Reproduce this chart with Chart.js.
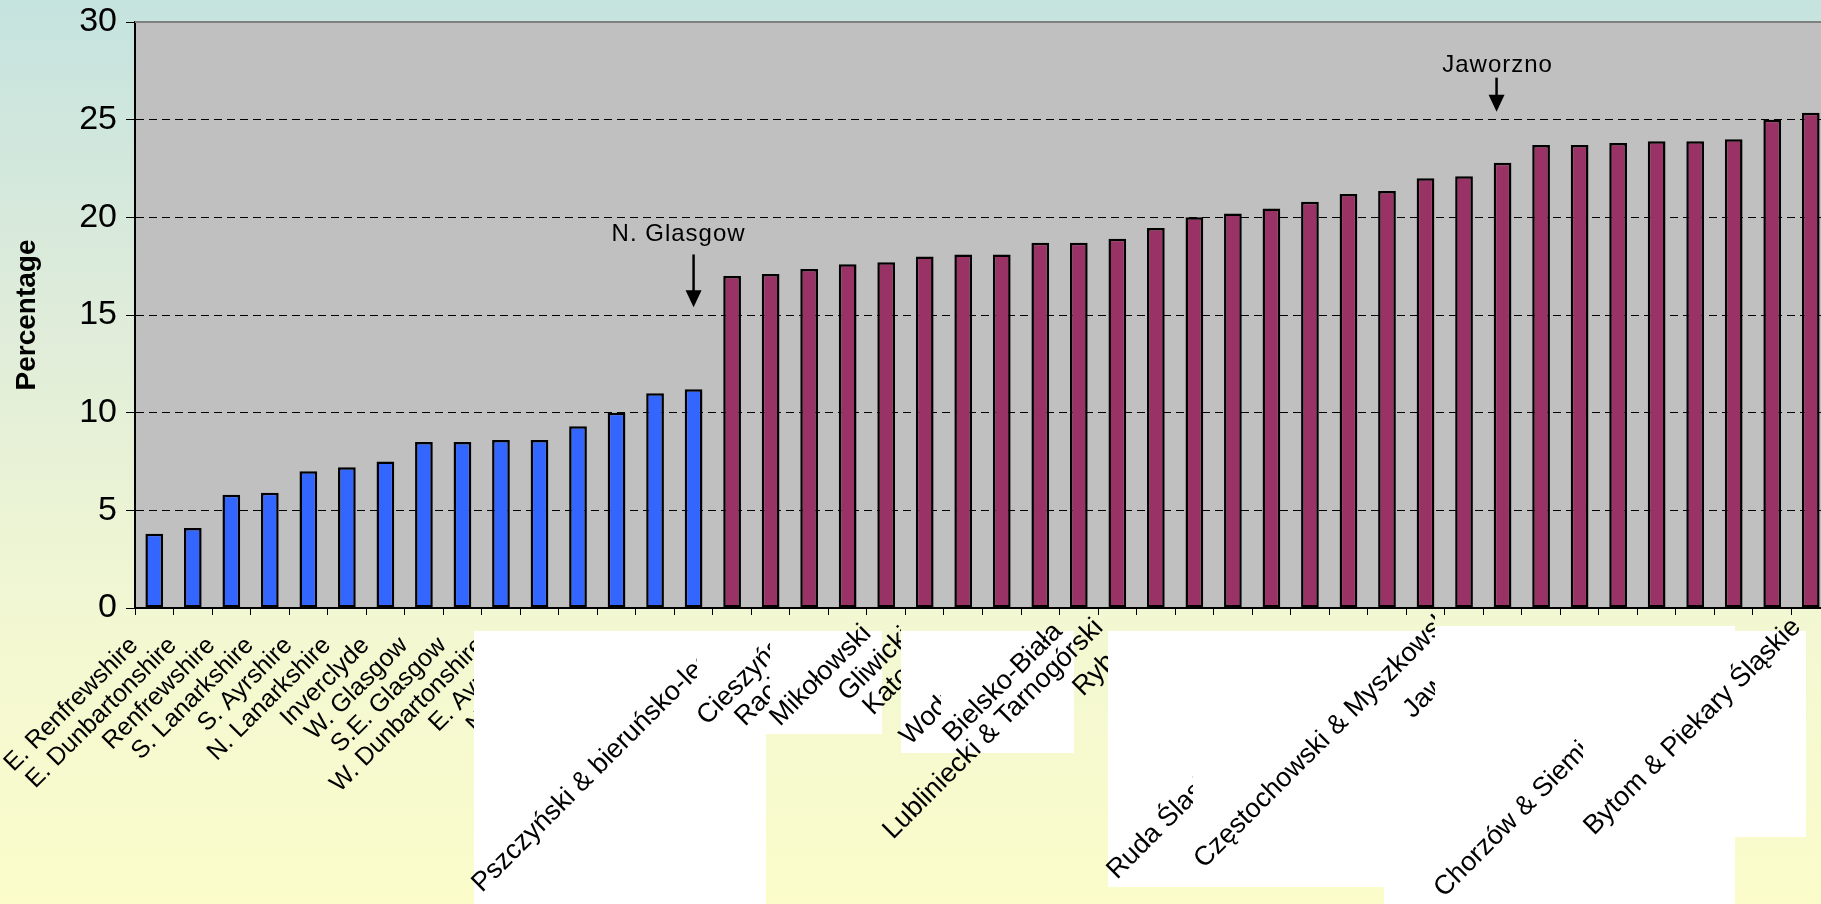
<!DOCTYPE html>
<html>
<head>
<meta charset="utf-8">
<title>Percentage by area</title>
<script src="https://cdn.jsdelivr.net/npm/chart.js@4.4.1/dist/chart.umd.min.js"></script>
<style>
    html, body {
        margin: 0;
        padding: 0;
        width: 1821px;
        height: 904px;
        overflow: hidden;
        background: linear-gradient(to bottom, #c5e3df 0%, #dfecda 35%, #f3f8d2 70%, #fbfcca 100%);
    }
    #wrap {
        position: absolute;
        left: 0;
        top: 0;
        width: 1830px;
        height: 904px;
    }
</style>
</head>
<body>
<div id="wrap"><canvas id="myChart"></canvas></div>
<script>
const FONT = 'Arial, "Liberation Sans", sans-serif';

// Scottish areas (blue) and Silesian areas (maroon), sorted by value
const scotlandAreas = ['E. Renfrewshire', 'E. Dunbartonshire', 'Renfrewshire', 'S. Lanarkshire', 'S. Ayrshire',
    'N. Lanarkshire', 'Inverclyde', 'W. Glasgow', 'S.E. Glasgow', 'W. Dunbartonshire',
    'E. Ayrshire', 'N. Ayrshire', 'S.W. Glasgow', 'E. Glasgow', 'N. Glasgow'];
const scotlandValues = [3.8, 4.1, 5.8, 5.9, 7.0, 7.2, 7.5, 8.5, 8.5, 8.6, 8.6, 9.3, 10.0, 11.0, 11.2];

const silesiaAreas = ['Pszczyński & bieruńsko-lędziński', 'Cieszyński', 'Raciborski', 'Mikołowski', 'Gliwicki',
    'Katowice', 'Wodzisławski', 'Bielsko-Biała', 'Lubliniecki & Tarnogórski', 'Rybnik',
    '', '', 'Ruda Śląska', '', '', 'Częstochowski & Myszkowski', '', '', '', '',
    'Jaworzno', '', '', '', 'Chorzów & Siemianowice', '', '', 'Bytom & Piekary Śląskie', ''];
const silesiaValues = [17.0, 17.1, 17.35, 17.6, 17.7, 18.0, 18.1, 18.1, 18.7, 18.7,
    18.9, 19.45, 20.0, 20.2, 20.45, 20.8, 21.2, 21.35, 22.0, 22.1,
    22.8, 23.7, 23.7, 23.8, 23.9, 23.9, 24.0, 25.0, 25.35];

const yTicks = [0, 5, 10, 15, 20, 25, 30];

const areas = scotlandAreas.concat(silesiaAreas);
const values = scotlandValues.concat(silesiaValues);

// arrows pointing at a bar
const notes = [
    {text: 'N. Glasgow', index: 14, textValue: 18.8, fromValue: 18.1, toValue: 15.4, textShift: -15, arrowShift: 0},
    {text: 'Jaworzno', index: 35, textValue: 27.45, fromValue: 27.15, toValue: 25.4, textShift: -5, arrowShift: -6}
];

// white panels pasted over the axis labels, with their own labels (canvas pixels)
const coverBoxes = [
    [474, 631, 766, 904], [766, 631, 882, 734], [901, 631, 1074, 753],
    [1108, 631, 1384, 887], [1384, 631, 1435, 904], [1435, 626, 1735, 904], [1735, 631, 1806, 837]
];
const coverLabels = [
    {text: 'Pszczyński & bieruńsko-lędziński', x: 482, y: 893, clip: 697},
    {text: 'Cieszyński', x: 707, y: 726, clip: 770},
    {text: 'Raciborski', x: 745, y: 727, clip: 770},
    {text: 'Mikołowski', x: 780, y: 727, clip: null},
    {text: 'Gliwicki', x: 848, y: 702, clip: 901},
    {text: 'Katowice', x: 873, y: 716, clip: 901},
    {text: 'Wodzisławski', x: 910, y: 746, clip: 941},
    {text: 'Bielsko-Biała', x: 953, y: 743, clip: null},
    {text: 'Lubliniecki & Tarnogórski', x: 893, y: 840, clip: null},
    {text: 'Rybnik', x: 1083, y: 697, clip: 1108},
    {text: 'Ruda Śląska', x: 1117, y: 880, clip: 1193},
    {text: 'Częstochowski & Myszkowski', x: 1204, y: 869, clip: 1435},
    {text: 'Jaworzno', x: 1413, y: 719, clip: 1435},
    {text: 'Chorzów & Siemianowice', x: 1444, y: 898, clip: 1583},
    {text: 'Bytom & Piekary Śląskie', x: 1594, y: 836, clip: null}
];

const decorations = {
    id: 'decorations',
    beforeDraw(chart) {
        const {ctx, chartArea: a} = chart;
        ctx.save();
        ctx.fillStyle = '#c0c0c0';
        ctx.fillRect(a.left, a.top, a.right - a.left, a.bottom - a.top);
        ctx.restore();
    },
    beforeDatasetsDraw(chart) {
        const {ctx, chartArea: a} = chart;
        ctx.save();
        ctx.strokeStyle = '#808080';
        ctx.lineWidth = 2;
        ctx.beginPath();
        ctx.moveTo(a.left, a.top);
        ctx.lineTo(a.right, a.top);
        ctx.stroke();
        ctx.restore();
    },
    afterDraw(chart) {
        const {ctx} = chart;
        const xs = chart.scales.x;
        const ys = chart.scales.y;

        ctx.save();
        ctx.fillStyle = '#ffffff';
        coverBoxes.forEach(b => ctx.fillRect(b[0], b[1], b[2] - b[0], b[3] - b[1]));

        ctx.fillStyle = '#000';
        ctx.font = '27px ' + FONT;
        ctx.textAlign = 'left';
        ctx.textBaseline = 'alphabetic';
        coverLabels.forEach(l => {
            ctx.save();
            if (l.clip) {
                ctx.beginPath();
                ctx.rect(0, 0, l.clip, chart.height);
                ctx.clip();
            }
            ctx.translate(l.x, l.y);
            ctx.rotate(-Math.PI / 4);
            ctx.fillText(l.text, 0, 0);
            ctx.restore();
        });

        notes.forEach(n => {
            const x = xs.getPixelForValue(n.index);
            const ax = x + n.arrowShift;
            const y0 = ys.getPixelForValue(n.fromValue);
            const y1 = ys.getPixelForValue(n.toValue);
            ctx.font = '24px ' + FONT;
            ctx.letterSpacing = '1px';
            ctx.textAlign = 'center';
            ctx.fillText(n.text, x + n.textShift, ys.getPixelForValue(n.textValue));
            ctx.strokeStyle = '#000';
            ctx.lineWidth = 2.5;
            ctx.beginPath();
            ctx.moveTo(ax, y0);
            ctx.lineTo(ax, y1 - 14);
            ctx.stroke();
            ctx.beginPath();
            ctx.moveTo(ax - 8, y1 - 17);
            ctx.lineTo(ax + 8, y1 - 17);
            ctx.lineTo(ax, y1);
            ctx.closePath();
            ctx.fill();
        });
        ctx.restore();
    }
};

function drawChart()
{
    const config = {
        type: 'bar',
        data: {
            labels: areas,
            datasets: [{
                data: values,
                backgroundColor: (c) => c.dataIndex < scotlandValues.length ? '#3366ff' : '#993366',
                borderColor: '#000',
                borderWidth: 2.5,
                borderSkipped: false,
                barPercentage: 0.46,
                categoryPercentage: 1.0
            }]
        },
        options: {
            responsive: true,
            maintainAspectRatio: false,
            animation: false,
            layout: {
                padding: {top: 22, right: 0, bottom: 0, left: 0}
            },
            plugins: {
                legend: {display: false},
                tooltip: {enabled: false}
            },
            scales: {
                x: {
                    offset: true,
                    grid: {
                        display: true,
                        drawOnChartArea: false,
                        drawTicks: true,
                        tickLength: 7,
                        color: '#000',
                        offset: true
                    },
                    border: {color: '#000', width: 2},
                    ticks: {
                        autoSkip: false,
                        minRotation: 45,
                        maxRotation: 45,
                        padding: 16,
                        labelOffset: -20,
                        color: '#000',
                        font: {family: FONT, size: 25},
                        callback: (v, i) => i < scotlandAreas.length ? areas[i] : ''
                    },
                    afterFit: (s) => {
                        s.height = 296;
                        s.paddingLeft = 0;
                        s.paddingRight = 0;
                    }
                },
                y: {
                    min: 0,
                    max: 30,
                    afterBuildTicks: (s) => { s.ticks = yTicks.map(v => ({value: v})); },
                    grid: {color: '#000', lineWidth: 1, tickLength: 9, tickColor: '#000'},
                    border: {color: '#000', width: 2, dash: [8, 5]},
                    ticks: {
                        color: '#000',
                        padding: 9,
                        font: {family: FONT, size: 34}
                    },
                    title: {
                        display: true,
                        text: 'Percentage',
                        color: '#000',
                        font: {family: FONT, size: 28, weight: 'bold'},
                        padding: {top: 10, bottom: 0}
                    },
                    afterFit: (s) => {
                        s.width = 135;
                        s.paddingTop = 0;
                        s.paddingBottom = 0;
                    }
                }
            }
        },
        plugins: [decorations]
    };

    new Chart(document.getElementById('myChart').getContext('2d'), config);
}

drawChart();
</script>
</body>
</html>
